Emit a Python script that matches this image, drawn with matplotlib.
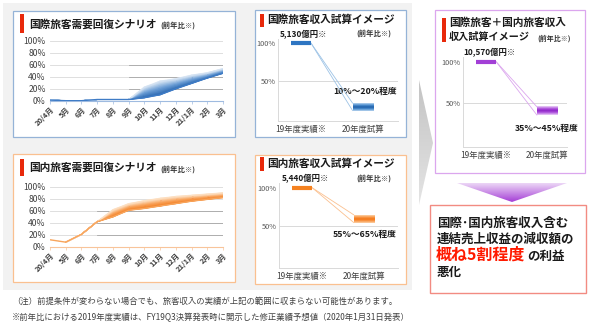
import numpy as np
import matplotlib
matplotlib.use("Agg")
import matplotlib.pyplot as plt
from matplotlib.colors import LinearSegmentedColormap
from matplotlib.patches import Rectangle, Polygon

plt.rcParams['font.family'] = ['Noto Sans CJK JP', 'DejaVu Sans']

W, H = 591, 328

# monthly demand recovery scenarios (% of previous year)
months = ["20/4月", "5月", "6月", "7月", "8月", "9月", "10月", "11月", "12月", "21/1月", "2月", "3月"]
intl_low = [1, 0, 0, 2, 2, 2, 5, 10, 20, 29, 38, 46]
intl_high = [1, 0, 0, 2, 2, 2, 23, 33, 37, 43, 47, 54]
dom_low = [12, 8, 21, 42, 50, 61, 64, 68, 72, 76, 79, 82]
dom_high = [12, 8, 21, 42, 62, 72, 77, 81, 84, 86, 88, 90]

# revenue estimates (% of previous year)
rev_cats = ["19年度実績※", "20年度試算"]
intl_base = "5,130億円※"
intl_range = [10, 20]
dom_base = "5,440億円※"
dom_range = [55, 65]
total_base = "10,570億円※"
total_range = [35, 45]

fig = plt.figure(figsize=(W / 100, H / 100), dpi=100)
fig.patch.set_facecolor('white')

bg = fig.add_axes([0, 0, 1, 1])
bg.set_xlim(0, W)
bg.set_ylim(H, 0)
bg.axis('off')


def px_axes(x0, y0, x1, y1):
    ax = fig.add_axes([x0 / W, 1 - y1 / H, (x1 - x0) / W, (y1 - y0) / H])
    ax.patch.set_alpha(0)
    return ax


def box(x0, y0, x1, y1, ec, fc='white', lw=0.9):
    bg.add_patch(Rectangle((x0, y0), x1 - x0, y1 - y0, fc=fc, ec=ec, lw=lw))


def marker(x, y0, y1):
    bg.add_patch(Rectangle((x, y0), 3.5, y1 - y0, fc='#e8290b', ec='none'))


def gradient_poly(pts, colors, vertical=True):
    cmap = LinearSegmentedColormap.from_list('g', colors)
    xs = [p[0] for p in pts]
    ys = [p[1] for p in pts]
    grad = np.linspace(0, 1, 64)[:, None] if vertical else np.linspace(0, 1, 64)[None, :]
    im = bg.imshow(grad, extent=(min(xs), max(xs), max(ys), min(ys)), cmap=cmap,
                   aspect='auto', interpolation='bilinear', origin='upper')
    poly = Polygon(pts, closed=True, fc='none', ec='none')
    bg.add_patch(poly)
    im.set_clip_path(poly)


# grey backdrop for the four scenario panels
bg.add_patch(Rectangle((3, 3), 409, 287, fc='#f2f2f2', ec='none'))

box(13, 11, 235, 137, '#95b3d7')
box(255, 10, 406, 137, '#95b3d7')
box(13, 154, 235, 282, '#fac090')
box(255, 155, 406, 284, '#fac090')
box(435, 10, 585, 173, '#dba6ee')
box(430, 205, 586, 293, '#f28b82', lw=1.0)

# chevrons between panels
gradient_poly([(240, 45), (251, 77), (240, 108)], ['#8dbbe0', '#5d9acb'], vertical=False)
gradient_poly([(240, 187), (251, 218), (240, 250)], ['#fdd3a6', '#fbb76e'], vertical=False)
gradient_poly([(419, 80), (433, 143), (419, 205)], ['#c4c4c4', '#e4e4e4'])
gradient_poly([(457, 183), (567, 183), (512, 202)], ['#ecd6f6', '#a53fd6'])

# titles
tkw = dict(fontsize=7.7, fontweight='bold', color='#1a1a1a', va='center', ha='left')
skw = dict(fontsize=5.3, fontweight='bold', color='#333333', va='center', ha='left')
marker(20, 14, 33)
bg.text(29, 24, "国際旅客需要回復シナリオ", **tkw)
bg.text(160, 25, "(前年比※)", **skw)
marker(20, 159, 176)
bg.text(29, 168, "国内旅客需要回復シナリオ", **tkw)
bg.text(160, 169, "(前年比※)", **skw)
marker(260, 14, 27)
bg.text(267, 20, "国際旅客収入試算イメージ", **tkw)
bg.text(356, 33, "(前年比※)", **skw)
marker(260, 157, 171)
bg.text(267, 164, "国内旅客収入試算イメージ", **tkw)
bg.text(356, 178, "(前年比※)", **skw)
marker(442, 18, 42)
bg.text(449, 23, "国際旅客＋国内旅客収入", **tkw)
bg.text(449, 37, "収入試算イメージ", **dict(tkw, fontsize=7.3))
bg.text(537, 38, "(前年比※)", **dict(skw, fontsize=5))

# conclusion box
ckw = dict(fontsize=9, fontweight='bold', color='#1a1a1a', va='center', ha='left')
bg.text(437, 223, "国際･国内旅客収入含む", **ckw)
bg.text(437, 239, "連結売上収益の減収額の", **ckw)
bg.text(436, 255, "概ね5割程度", fontsize=11.5, fontweight='bold', color='#ff1a00',
        va='center', ha='left')
bg.text(527, 256, "の利益", **ckw)
bg.text(437, 272, "悪化", **ckw)

# footnotes
nkw = dict(fontsize=6, color='#404040', va='center', ha='left')
bg.text(12, 301, "（注）前提条件が変わらない場合でも、旅客収入の実績が上記の範囲に収まらない可能性があります。", **nkw)
bg.text(12, 318, "※前年比における2019年度実績は、FY19Q3決算発表時に開示した修正業績予想値（2020年1月31日発表）", **nkw)


def scenario_chart(rect, lo, hi, colors, line_color, axis_color, dark_grid_from):
    ax = px_axes(*rect)
    x = np.arange(len(months))
    lo = np.asarray(lo, float)
    hi = np.asarray(hi, float)
    for v in range(20, 101, 20):
        ax.plot([0, 11], [v, v], color='#d9d9d9', lw=0.6, zorder=0)
        if v < 80:
            ax.plot([dark_grid_from, 11], [v, v], color='#a6a6a6', lw=0.6, zorder=0)
    t = np.linspace(0, 1, 10)
    X = np.tile(x, (len(t), 1))
    Y = lo[None, :] + (hi - lo)[None, :] * t[:, None]
    C = np.tile(t[:, None], (1, len(x)))
    cmap = LinearSegmentedColormap.from_list('band', colors)
    ax.pcolormesh(X, Y, C, shading='gouraud', cmap=cmap, vmin=0, vmax=1, zorder=2)
    ax.plot(x, lo, color=line_color, lw=1.0, zorder=3)
    ax.set_xlim(0, 11)
    ax.set_ylim(0, 100)
    for s in ['top', 'right', 'left']:
        ax.spines[s].set_visible(False)
    ax.spines['bottom'].set_color(axis_color)
    ax.spines['bottom'].set_linewidth(0.8)
    ax.set_yticks(range(0, 101, 20))
    ax.set_yticklabels([f"{v}%" for v in range(0, 101, 20)])
    ax.tick_params(axis='y', length=0, pad=3, labelsize=6.2, labelcolor='#404040')
    ax.set_xticks(x)
    ax.set_xticklabels(months, rotation=45, ha='right', rotation_mode='anchor')
    ax.tick_params(axis='x', length=2, width=0.5, color=axis_color, pad=1.5,
                   labelsize=5.3, labelcolor='#404040')
    for lab in ax.get_xticklabels():
        lab.set_fontweight('bold')
    return ax


scenario_chart((50, 41, 223, 100.7), intl_low, intl_high,
               ['#2a67b1', '#6d9fd6', '#dce8f5'], '#3f7cc6', '#9fbbe0', 5)
scenario_chart((50, 186.7, 223, 247), dom_low, dom_high,
               ['#f37b1d', '#f9a35a', '#fde4ca'], '#f8a55c', '#f8c49a', 3)


def revenue_chart(rect, xlim, base_text, rng, bar_color, band_colors, link_color):
    ax = px_axes(*rect)
    w = 0.33
    lo, hi = rng
    ax.plot([-1, 3], [50, 50], color='#d9d9d9', lw=0.7, zorder=0)
    ax.plot([-w / 2, w / 2], [100, 100], color=bar_color, lw=3, solid_capstyle='butt', zorder=3)
    cmap = LinearSegmentedColormap.from_list('bar', band_colors)
    grad = np.abs(np.linspace(-1, 1, 32))[:, None]
    ax.imshow(grad, extent=(1 - w / 2, 1 + w / 2, lo, hi), cmap=cmap, aspect='auto',
              interpolation='bilinear', vmin=0, vmax=1, zorder=3)
    ax.plot([w / 2, 1 - w / 2], [100, hi], color=link_color, lw=0.6, zorder=2)
    ax.plot([w / 2, 1 - w / 2], [100, lo], color=link_color, lw=0.6, zorder=2)
    ax.annotate(base_text, (0.05, 100), xytext=(0, 3), textcoords='offset points',
                ha='center', va='bottom', fontsize=6, fontweight='bold', color='#1a1a1a')
    ax.set_xlim(*xlim)
    ax.set_ylim(-4, 106)
    for s in ['top', 'right']:
        ax.spines[s].set_visible(False)
    for s in ['left', 'bottom']:
        ax.spines[s].set_color('#d9d9d9')
        ax.spines[s].set_linewidth(0.7)
    ax.set_yticks([50, 100])
    ax.set_yticklabels(["50%", "100%"])
    ax.tick_params(axis='y', length=0, pad=1.5, labelsize=5.3, labelcolor='#595959')
    ax.set_xticks([0, 1])
    ax.set_xticklabels(rev_cats)
    ax.tick_params(axis='x', length=0, pad=3, labelsize=6, labelcolor='#404040')
    return ax


revenue_chart((278, 38.8, 398, 121), (-0.37, 1.57), intl_base, intl_range,
              '#2e75c2', ['#1f5fa8', '#4d8fd0', '#b8d3ee'], '#9dc3e6')
revenue_chart((279, 183.1, 398, 268.1), (-0.37, 1.55), dom_base, dom_range,
              '#f58220', ['#f47514', '#f89a4c', '#fdd2a8'], '#fbc08f')
revenue_chart((463, 56.8, 567, 147), (-0.38, 1.33), total_base, total_range,
              '#a23fd6', ['#8e22c8', '#b45fe0', '#ead0f7'], '#dba6ee')

rkw = dict(fontsize=6.3, fontweight='bold', color='#1a1a1a', va='center', ha='right')
bg.text(397, 91, "10%～20%程度", **rkw)
bg.text(397, 234, "55%～65%程度", **rkw)
bg.text(579, 128, "35%～45%程度", **rkw)

fig.savefig("out.png", dpi=100)
